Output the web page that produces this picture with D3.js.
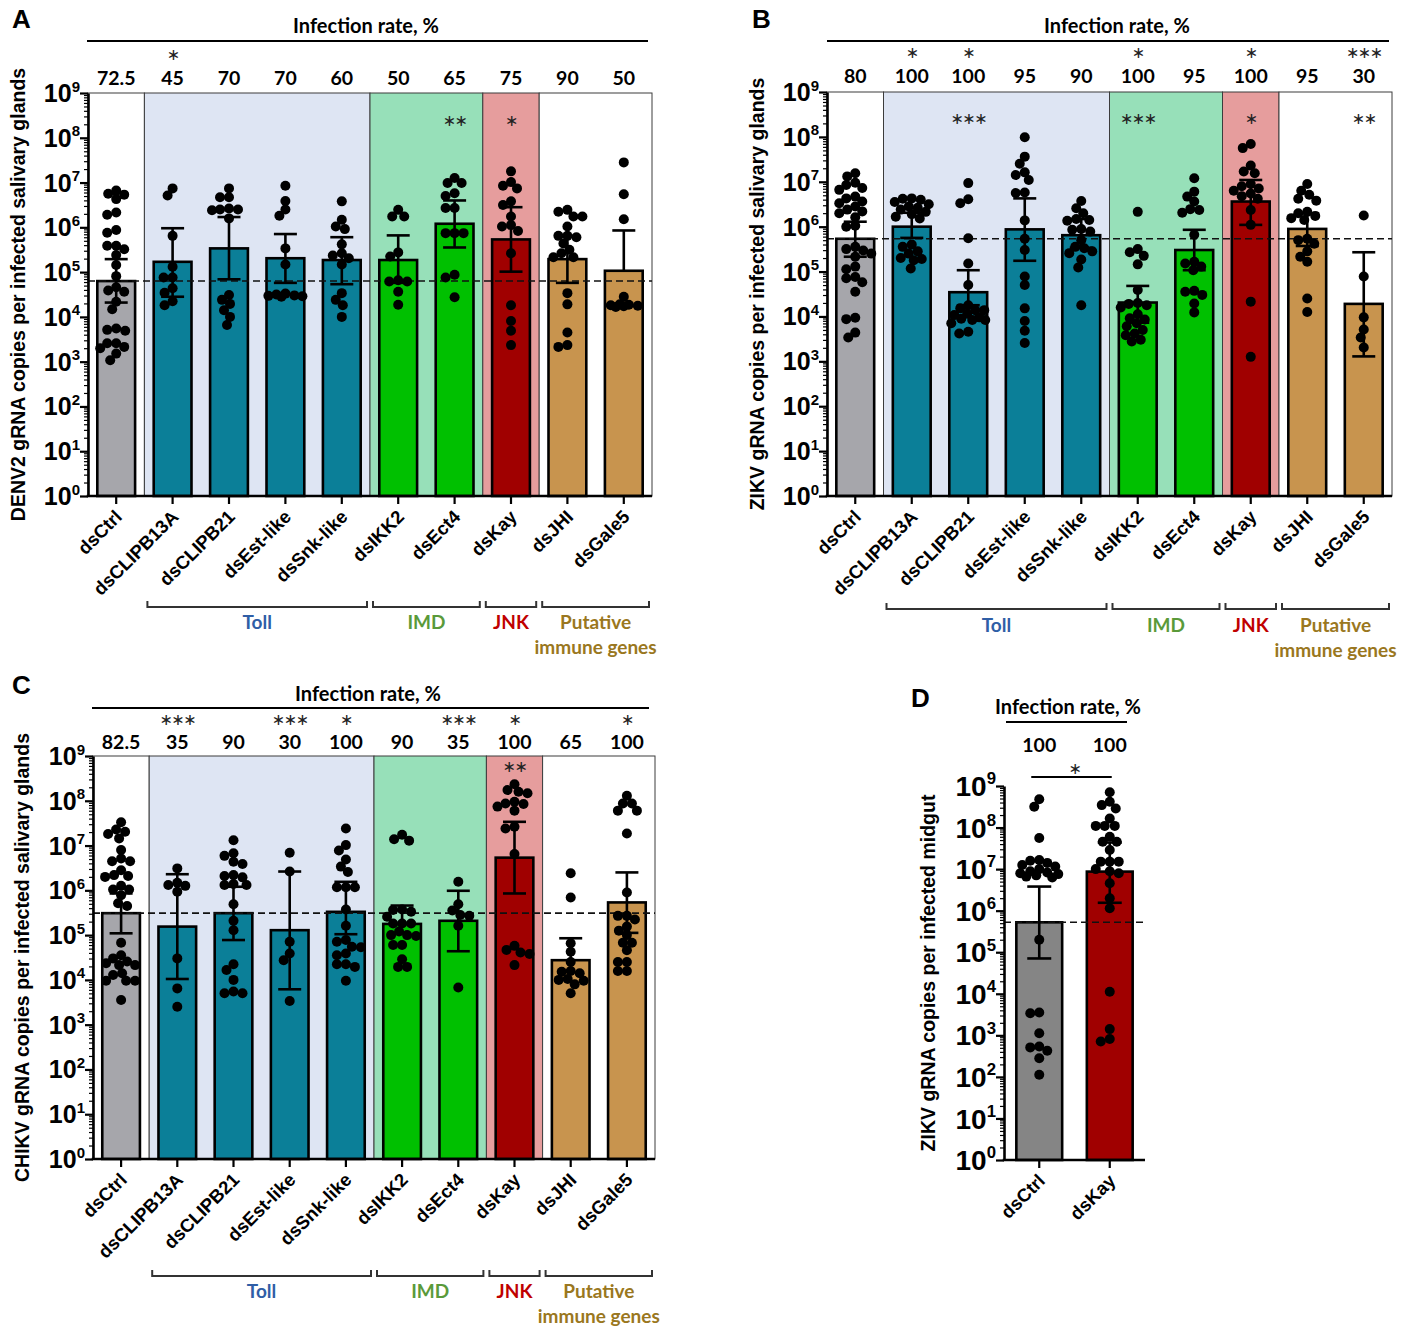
<!DOCTYPE html>
<html>
<head>
<meta charset="utf-8">
<script src="https://cdn.jsdelivr.net/npm/d3@7"></script>
<style>
  body { margin: 0; background: #fff; }
  svg { display: block; }
</style>
</head>
<body>
<svg id="fig" width="1423" height="1327"></svg>
<script>
// ---- data (log10 copies) ----
const genes = ["dsCtrl", "dsCLIPB13A", "dsCLIPB21", "dsEst-like", "dsSnk-like", "dsIKK2", "dsEct4", "dsKay", "dsJHI", "dsGale5"];
const pathways = ["Control", "Toll", "Toll", "Toll", "Toll", "IMD", "IMD", "JNK", "Putative", "Putative"];

// A: DENV2
const denvRate = ["72.5", "45", "70", "70", "60", "50", "65", "75", "90", "50"];
const denvRateSig = ["", "*", "", "", "", "", "", "", "", ""];
const denvSig = ["", "", "", "", "", "", "**", "*", "", ""];
const denvMean = [4.80, 5.23, 5.53, 5.31, 5.27, 5.27, 6.08, 5.73, 5.29, 5.03];
const denvHi = [5.29, 5.98, 6.23, 5.85, 5.78, 5.82, 6.60, 6.45, 5.81, 5.93];
const denvLo = [4.32, 4.45, 4.84, 4.76, 4.73, 4.76, 5.55, 5.01, 4.76, null];
const denvPoints = [
  [6.82, 6.75, 6.73, 6.63, 6.33, 6.28, 5.94, 5.88, 5.59, 5.59, 5.51, 5.38, 5.16, 4.91, 4.66, 4.59, 4.56, 4.34, 4.17, 3.74, 3.71, 3.69, 3.41, 3.41, 3.33, 3.30, 3.18, 3.03],
  [6.87, 6.71, 5.81, 5.12, 4.88, 4.88, 4.64, 4.54, 4.35, 4.26],
  [6.87, 6.67, 6.67, 6.42, 6.40, 6.40, 6.38, 6.20, 4.49, 4.38, 4.29, 4.15, 4.00, 3.82],
  [6.93, 6.59, 6.40, 6.26, 5.53, 5.17, 4.52, 4.50, 4.48, 4.47, 4.46, 4.45],
  [6.58, 6.17, 6.02, 5.96, 5.62, 5.42, 5.37, 5.31, 5.17, 4.53, 4.38, 4.26, 4.00],
  [6.39, 6.24, 6.24, 5.44, 5.35, 4.82, 4.79, 4.79, 4.56, 4.27],
  [7.10, 6.99, 6.99, 6.76, 6.70, 6.43, 6.43, 5.87, 5.87, 5.87, 4.94, 4.88, 4.44],
  [7.25, 7.01, 6.93, 6.87, 6.58, 6.50, 6.24, 6.05, 6.02, 5.92, 5.42, 4.26, 3.91, 3.69, 3.37],
  [6.39, 6.35, 6.24, 6.24, 6.02, 5.81, 5.81, 5.78, 5.64, 5.50, 5.42, 5.33, 5.33, 4.53, 4.28, 3.65, 3.37, 3.33],
  [7.45, 6.74, 6.18, 4.45, 4.28, 4.27, 4.26, 4.25, 4.24, 4.22]
];

// B: ZIKV
const zikvRate = ["80", "100", "100", "95", "90", "100", "95", "100", "95", "30"];
const zikvRateSig = ["", "*", "*", "", "", "*", "", "*", "", "***"];
const zikvSig = ["", "", "***", "", "", "***", "", "*", "", "**"];
const zikvMean = [5.73, 6.00, 4.54, 5.94, 5.81, 4.31, 5.48, 6.56, 5.95, 4.28];
const zikvHi = [6.11, 6.31, 5.03, 6.63, 6.17, 4.68, 5.93, 7.04, 6.30, 5.43];
const zikvLo = [5.33, 5.75, 4.25, 5.24, 5.53, 3.86, 5.03, 6.04, 5.57, 3.11];
const zikvPoints = [
  [7.19, 7.12, 6.98, 6.93, 6.86, 6.82, 6.67, 6.63, 6.56, 6.52, 6.45, 6.38, 6.34, 6.30, 6.21, 6.02, 6.00, 5.55, 5.50, 5.47, 5.40, 5.33, 5.11, 5.05, 4.88, 4.85, 4.76, 4.55, 3.97, 3.94, 3.64, 3.53],
  [6.63, 6.62, 6.60, 6.55, 6.50, 6.45, 6.42, 6.38, 6.33, 6.28, 6.22, 6.18, 5.60, 5.55, 5.45, 5.40, 5.30, 5.28, 5.25, 5.07],
  [6.97, 6.61, 6.52, 5.74, 5.18, 4.70, 4.25, 4.18, 4.14, 4.14, 4.06, 4.03, 3.98, 3.95, 3.92, 3.92, 3.85, 3.66, 3.62],
  [7.99, 7.56, 7.40, 7.21, 7.15, 7.04, 6.76, 6.75, 6.14, 5.73, 5.48, 4.89, 4.70, 4.18, 3.90, 3.68, 3.41],
  [6.57, 6.41, 6.30, 6.17, 6.15, 6.13, 5.95, 5.93, 5.89, 5.70, 5.55, 5.52, 5.45, 5.41, 5.27, 5.09, 4.25],
  [6.33, 5.50, 5.43, 5.35, 5.16, 4.59, 4.30, 4.28, 4.25, 4.20, 4.05, 3.96, 3.93, 3.85, 3.78, 3.70, 3.62, 3.58, 3.48, 3.44],
  [7.08, 6.78, 6.67, 6.56, 6.39, 6.37, 6.31, 5.82, 5.22, 5.18, 5.11, 5.03, 4.57, 4.55, 4.48, 4.29, 4.09],
  [7.84, 7.75, 7.36, 7.23, 7.19, 6.95, 6.90, 6.85, 6.80, 6.74, 6.68, 6.62, 6.37, 6.04, 4.33, 3.10],
  [6.95, 6.80, 6.71, 6.62, 6.58, 6.33, 6.30, 6.24, 6.19, 6.15, 5.73, 5.70, 5.62, 5.45, 5.33, 5.22, 4.40, 4.10],
  [6.25, 4.89, 3.98, 3.71, 3.53, 3.31]
];

// C: CHIKV
const chikvRate = ["82.5", "35", "90", "30", "100", "90", "35", "100", "65", "100"];
const chikvRateSig = ["", "***", "", "***", "*", "", "***", "*", "", "*"];
const chikvSig = ["", "", "", "", "", "", "", "**", "", ""];
const chikvMean = [5.49, 5.19, 5.49, 5.11, 5.52, 5.25, 5.32, 6.73, 4.44, 5.73];
const chikvHi = [5.93, 6.36, 6.08, 6.42, 6.19, 5.66, 5.99, 7.53, 4.93, 6.40];
const chikvLo = [5.04, 4.02, 4.89, 3.79, 5.02, null, 4.64, 5.93, null, 5.05];
const chikvPoints = [
  [7.52, 7.36, 7.31, 7.26, 7.16, 6.90, 6.71, 6.65, 6.65, 6.45, 6.34, 6.32, 6.30, 6.10, 6.02, 6.02, 5.89, 5.71, 5.65, 4.83, 4.55, 4.48, 4.41, 4.37, 4.33, 4.33, 4.15, 4.11, 3.98, 3.98, 3.98, 3.55],
  [6.49, 6.17, 6.12, 6.10, 5.97, 4.48, 3.81, 3.40],
  [7.12, 6.83, 6.77, 6.64, 6.59, 6.34, 6.32, 6.29, 6.14, 6.12, 6.12, 5.69, 5.32, 5.11, 4.35, 4.22, 4.00, 3.74, 3.70, 3.70],
  [6.84, 6.42, 4.85, 4.59, 4.44, 3.53],
  [7.38, 7.01, 6.89, 6.69, 6.53, 6.41, 6.07, 6.07, 6.07, 5.57, 5.21, 4.89, 4.85, 4.74, 4.73, 4.59, 4.55, 4.35, 4.35, 4.29, 3.98],
  [7.24, 7.14, 7.11, 5.57, 5.56, 5.52, 5.41, 5.26, 5.26, 5.26, 5.08, 5.00, 5.00, 4.98, 4.78, 4.78, 4.46, 4.29, 4.29],
  [6.19, 5.69, 5.55, 5.45, 5.43, 5.21, 3.83],
  [8.37, 8.24, 8.20, 8.17, 7.98, 7.94, 7.93, 7.87, 7.78, 7.42, 7.38, 6.81, 4.76, 4.67, 4.61, 4.58, 4.33],
  [6.38, 5.84, 4.82, 4.63, 4.40, 4.20, 4.18, 4.15, 4.02, 4.00, 3.98, 3.90, 3.70],
  [8.11, 7.94, 7.94, 7.78, 7.78, 7.27, 5.95, 5.43, 5.43, 5.35, 5.19, 5.10, 5.00, 4.83, 4.83, 4.66, 4.40, 4.40, 4.20, 4.20]
];

// D: ZIKV midgut
const midgutGenes = ["dsCtrl", "dsKay"];
const midgutPathways = ["Midgut", "JNK"];
const midgutRate = ["100", "100"];
const midgutMean = [5.72, 6.94];
const midgutHi = [6.58, 7.64];
const midgutLo = [4.85, 6.19];
const midgutPoints = [
  [8.68, 8.50, 7.75, 7.22, 7.20, 7.15, 7.10, 7.06, 7.00, 6.95, 6.92, 6.90, 6.88, 6.85, 6.82, 6.80, 5.30, 3.55, 3.53, 3.05, 2.73, 2.71, 2.63, 2.45, 2.05],
  [8.85, 8.62, 8.54, 8.46, 8.22, 8.04, 8.04, 8.04, 7.78, 7.66, 7.66, 7.46, 7.18, 7.18, 7.18, 7.00, 6.95, 6.90, 6.66, 6.30, 6.06, 4.05, 3.15, 2.91, 2.85]
];

const groupLabels = { Toll: ["Toll"], IMD: ["IMD"], JNK: ["JNK"], Putative: ["Putative", "immune genes"] };

// ---- styling ----
const ARIAL = "'Liberation Sans', Arial, sans-serif";
const CAL = "Lato, 'Open Sans', sans-serif";
const STAR = "'DejaVu Sans', sans-serif";
const barFill = { Control: "#a6a6ab", Midgut: "#858585", Toll: "#0b7f98", IMD: "#00c000", JNK: "#a00000", Putative: "#c8944e" };
const bandFill = { Control: "#ffffff", Midgut: "#ffffff", Toll: "#dee5f3", IMD: "#97e0b9", JNK: "#e69d9d", Putative: "#ffffff" };
const groupColor = { Toll: "#2f5ea6", IMD: "#5a9a3a", JNK: "#c00000", Putative: "#9a7720" };

const svg = d3.select("#fig");

// asterisks drawn with the centred "asterisk operator" glyph
const stars = s => s.replace(/\*/g, "\u2217");
function starText(sel, s) {
  return sel.attr("font-family", STAR).attr("font-size", 16).attr("letter-spacing", -1.5)
    .attr("fill", "#222").text(stars(s));
}

// simple beeswarm: nearest free offset within maxOff, else the least crowded one
function swarm(vals, cx, y, r, maxOff) {
  const placed = [];
  const minD = 2 * r * 0.85;
  vals.slice().sort((a, b) => b - a).forEach(v => {
    const py = y(Math.pow(10, v));
    let px = null, bestScore = -1, bestX = cx;
    for (let k = 0; k <= maxOff && px === null; k++) {
      for (const s of (k === 0 ? [0] : [-k, k])) {
        const tx = cx + s;
        const d = placed.length ? d3.min(placed, q => Math.hypot(q.x - tx, q.y - py)) : 1e9;
        if (d >= minD) { px = tx; break; }
        if (d > bestScore) { bestScore = d; bestX = tx; }
      }
    }
    placed.push({ x: px === null ? bestX : px, y: py });
  });
  return placed;
}

function drawPanel(p) {
  const g = svg.append("g");
  const x = d3.scaleBand().domain(p.cats).range([p.left, p.right]).paddingInner(p.pad).paddingOuter(p.pad / 2);
  const y = d3.scaleLog().domain([1, 1e9]).range([p.bottom, p.top]);
  const half = x.step() * p.pad / 2;
  const cx = c => x(c) + x.bandwidth() / 2;

  // background bands + brackets
  if (p.bands) {
    const runs = [];
    p.groups.forEach((grp, i) => {
      const last = runs[runs.length - 1];
      if (last && last.grp === grp) last.end = i; else runs.push({ grp, start: i, end: i });
    });
    runs.forEach(r => {
      r.x0 = x(p.cats[r.start]) - half;
      r.x1 = x(p.cats[r.end]) + x.bandwidth() + half;
    });
    g.selectAll("rect.band").data(runs).join("rect").attr("class", "band")
      .attr("x", d => d.x0).attr("y", p.top)
      .attr("width", d => d.x1 - d.x0).attr("height", p.bottom - p.top)
      .attr("fill", d => bandFill[d.grp]).attr("stroke", "#3c3c3c").attr("stroke-width", 1);

    runs.filter(r => r.grp !== "Control").forEach(r => {
      const a = r.x0 + 3, b = r.x1 - 3, yb = p.bracketY;
      g.append("path")
        .attr("d", `M${a},${yb - 6}V${yb}H${b}V${yb - 6}`)
        .attr("fill", "none").attr("stroke", "#333").attr("stroke-width", 2);
      groupLabels[r.grp].forEach((t, k) => {
        g.append("text").attr("x", (a + b) / 2).attr("y", p.groupLabelY + k * 25)
          .attr("text-anchor", "middle").attr("font-family", CAL).attr("font-weight", 700)
          .attr("font-size", 19).attr("fill", groupColor[r.grp]).text(t);
      });
    });
  }

  // bars
  g.selectAll("rect.bar").data(p.cats).join("rect").attr("class", "bar")
    .attr("x", d => x(d)).attr("width", x.bandwidth())
    .attr("y", (d, i) => y(Math.pow(10, p.mean[i])))
    .attr("height", (d, i) => p.bottom - y(Math.pow(10, p.mean[i])))
    .attr("fill", (d, i) => barFill[p.groups[i]])
    .attr("stroke", "#000").attr("stroke-width", 2.6);

  // dashed control line
  const yCtrl = y(Math.pow(10, p.mean[0]));
  g.append("line").attr("x1", p.left).attr("x2", p.right).attr("y1", yCtrl).attr("y2", yCtrl)
    .attr("stroke", "#111").attr("stroke-width", 1.6).attr("stroke-dasharray", "7,4");

  // error bars
  p.cats.forEach((c, i) => {
    const xc = cx(c), ym = y(Math.pow(10, p.mean[i]));
    const yh = y(Math.pow(10, p.hi[i]));
    const yl = p.lo[i] === null ? ym : y(Math.pow(10, p.lo[i]));
    g.append("line").attr("x1", xc).attr("x2", xc).attr("y1", yh).attr("y2", yl)
      .attr("stroke", "#000").attr("stroke-width", 2.6);
    const caps = p.lo[i] === null ? [yh] : [yh, yl];
    caps.forEach(yy => g.append("line").attr("x1", xc - p.cap / 2).attr("x2", xc + p.cap / 2)
      .attr("y1", yy).attr("y2", yy).attr("stroke", "#000").attr("stroke-width", 2.6));
  });

  // dots
  p.cats.forEach((c, i) => {
    const pts = swarm(p.points[i], cx(c), y, p.r, p.maxOff);
    g.selectAll(null).data(pts).join("circle")
      .attr("cx", d => d.x).attr("cy", d => d.y).attr("r", p.r).attr("fill", "#000");
  });

  // y axis
  const majors = d3.range(0, 10).map(k => Math.pow(10, k));
  const minors = [];
  for (let k = 0; k < 9; k++) for (let m = 2; m <= 9; m++) minors.push(m * Math.pow(10, k));
  const ax = g.append("g").attr("transform", `translate(${p.left},0)`)
    .call(d3.axisLeft(y).tickValues(minors).tickSize(4).tickSizeOuter(0).tickFormat(""));
  ax.select(".domain").attr("stroke-width", 2.6);
  ax.selectAll(".tick line").attr("stroke-width", 1.2);
  const ax2 = g.append("g").attr("transform", `translate(${p.left},0)`)
    .call(d3.axisLeft(y).tickValues(majors).tickSize(8).tickSizeOuter(0).tickFormat(""));
  ax2.select(".domain").remove();
  ax2.selectAll(".tick line").attr("stroke-width", 2.2);

  majors.forEach((v, k) => {
    const t = g.append("text").attr("x", p.left - 8).attr("y", y(v) + p.tickFont * 0.36)
      .attr("text-anchor", "end").attr("font-family", ARIAL).attr("font-weight", 700)
      .attr("font-size", p.tickFont).attr("fill", "#000");
    t.append("tspan").text("10");
    t.append("tspan").attr("font-size", p.tickFont * 0.6).attr("dy", -p.tickFont * 0.42).text(k);
  });

  // y label
  g.append("text").attr("transform", `translate(${p.yLabelX},${(p.top + p.bottom) / 2}) rotate(-90)`)
    .attr("text-anchor", "middle").attr("font-family", ARIAL).attr("font-weight", 700)
    .attr("font-size", p.yLabelFont).text(p.yLabel);

  // x axis
  g.append("line").attr("x1", p.left - 1.3).attr("x2", p.right).attr("y1", p.bottom).attr("y2", p.bottom)
    .attr("stroke", "#000").attr("stroke-width", 2.6);
  p.cats.forEach(c => {
    g.append("line").attr("x1", cx(c)).attr("x2", cx(c)).attr("y1", p.bottom).attr("y2", p.bottom + 8)
      .attr("stroke", "#000").attr("stroke-width", 2.2);
    g.append("text").attr("transform", `translate(${cx(c) + 7},${p.bottom + 22}) rotate(-45)`)
      .attr("text-anchor", "end").attr("font-family", ARIAL).attr("font-weight", 700)
      .attr("font-size", 18.5).text(c);
  });

  // infection rate header
  g.append("text").attr("x", p.titleX).attr("y", p.titleY).attr("text-anchor", "middle")
    .attr("font-family", CAL).attr("font-weight", 700).attr("font-size", 20).text("Infection rate, %");
  g.append("line").attr("x1", p.titleLine[0]).attr("x2", p.titleLine[1])
    .attr("y1", p.titleLine[2]).attr("y2", p.titleLine[2]).attr("stroke", "#000").attr("stroke-width", 2);
  p.cats.forEach((c, i) => {
    g.append("text").attr("x", cx(c)).attr("y", p.rateY).attr("text-anchor", "middle")
      .attr("font-family", CAL).attr("font-weight", 700).attr("font-size", 19.5).text(p.rate[i]);
    if (p.rateSig && p.rateSig[i]) {
      starText(g.append("text").attr("x", cx(c)).attr("y", p.rateSigY).attr("text-anchor", "middle"), p.rateSig[i]);
    }
    if (p.sig && p.sig[i]) {
      starText(g.append("text").attr("x", cx(c)).attr("y", p.sigY).attr("text-anchor", "middle"), p.sig[i]);
    }
  });

  // panel letter
  g.append("text").attr("x", p.letterX).attr("y", p.letterY).attr("font-family", ARIAL)
    .attr("font-weight", 700).attr("font-size", 26).text(p.letter);

  return { x, y, cx };
}

drawPanel({
  cats: genes, groups: pathways, bands: true, pad: 0.33, r: 5, cap: 23, tickFont: 25, maxOff: 17,
  left: 88, right: 652, top: 93, bottom: 496,
  mean: denvMean, hi: denvHi, lo: denvLo, points: denvPoints,
  rate: denvRate, rateSig: denvRateSig, sig: denvSig,
  yLabel: "DENV2 gRNA copies per infected salivary glands", yLabelX: 25, yLabelFont: 19.5,
  titleX: 366, titleY: 33, titleLine: [87, 648, 41], rateY: 85, rateSigY: 60, sigY: 126,
  bracketY: 607, groupLabelY: 629, letter: "A", letterX: 12, letterY: 28
});

drawPanel({
  cats: genes, groups: pathways, bands: true, pad: 0.33, r: 5, cap: 23, tickFont: 25, maxOff: 17,
  left: 827, right: 1392, top: 92, bottom: 496,
  mean: zikvMean, hi: zikvHi, lo: zikvLo, points: zikvPoints,
  rate: zikvRate, rateSig: zikvRateSig, sig: zikvSig,
  yLabel: "ZIKV gRNA copies per infected salivary glands", yLabelX: 764, yLabelFont: 19.5,
  titleX: 1117, titleY: 33, titleLine: [827, 1389, 41], rateY: 83, rateSigY: 58, sigY: 124,
  bracketY: 609, groupLabelY: 632, letter: "B", letterX: 752, letterY: 28
});

drawPanel({
  cats: genes, groups: pathways, bands: true, pad: 0.33, r: 5, cap: 23, tickFont: 25, maxOff: 17,
  left: 93, right: 655, top: 756, bottom: 1159,
  mean: chikvMean, hi: chikvHi, lo: chikvLo, points: chikvPoints,
  rate: chikvRate, rateSig: chikvRateSig, sig: chikvSig,
  yLabel: "CHIKV gRNA copies per infected salivary glands", yLabelX: 29, yLabelFont: 19.5,
  titleX: 368, titleY: 701, titleLine: [92, 649, 708], rateY: 749, rateSigY: 725, sigY: 772,
  bracketY: 1276, groupLabelY: 1298, letter: "C", letterX: 12, letterY: 694
});

const dPanel = drawPanel({
  cats: midgutGenes, groups: midgutPathways, bands: false, pad: 0.35, r: 5, cap: 24, tickFont: 28, maxOff: 19,
  left: 1004, right: 1145, top: 786, bottom: 1160,
  mean: midgutMean, hi: midgutHi, lo: midgutLo, points: midgutPoints,
  rate: midgutRate, rateSig: null, sig: null,
  yLabel: "ZIKV gRNA copies per infected midgut", yLabelX: 935, yLabelFont: 19.5,
  titleX: 1068, titleY: 714, titleLine: [1006, 1127, 722], rateY: 752,
  letter: "D", letterX: 911, letterY: 707
});

// D significance bar
svg.append("line").attr("x1", dPanel.cx("dsCtrl") - 8).attr("x2", dPanel.cx("dsKay") + 2)
  .attr("y1", 777).attr("y2", 777).attr("stroke", "#000").attr("stroke-width", 2);
starText(svg.append("text").attr("x", (dPanel.cx("dsCtrl") + dPanel.cx("dsKay")) / 2).attr("y", 774)
  .attr("text-anchor", "middle"), "*");
</script>
</body>
</html>
